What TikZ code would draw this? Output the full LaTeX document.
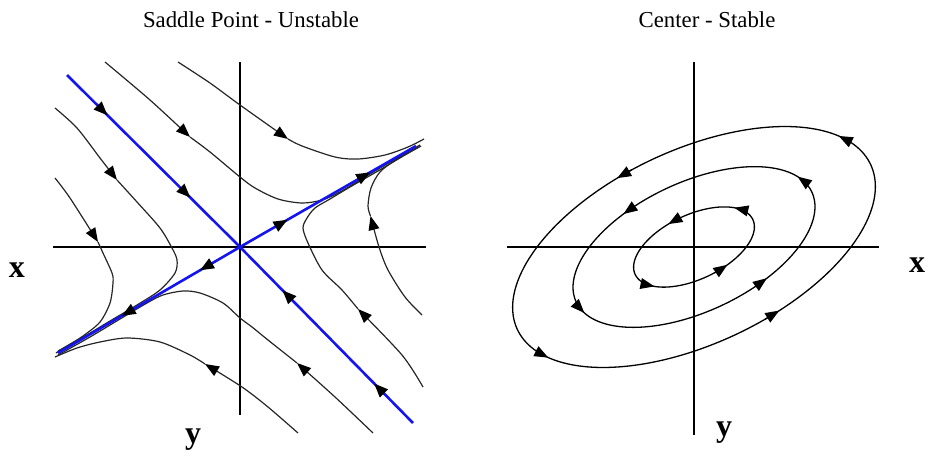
\documentclass[tikz,border=0pt]{standalone}
\usepackage{fontspec}
\setmainfont{Liberation Serif}
\usetikzlibrary{arrows.meta,decorations.markings}
\definecolor{eigblue}{HTML}{1414EE}
\definecolor{bk85}{HTML}{262626}
\tikzset{
  flowtip/.tip={Triangle[length=7pt,width=5.4pt,color=black]},
  axisline/.style={line width=0.75pt, black},
  traj/.style={line width=0.6pt, color=bk85},
  eigenline/.style={line width=1.3pt, color=eigblue},
  orbit/.style={line width=0.65pt, black},
  twoflow/.style 2 args={postaction={decorate, decoration={markings,
      mark=at position #1 with {\arrow[black]{flowtip}},
      mark=at position #2 with {\arrow[black]{flowtip}}}}},
  panetitle/.style={font=\fontsize{11.4}{13}\selectfont, anchor=base, inner sep=0pt},
  axislabel/.style={font=\fontsize{16}{18}\selectfont\bfseries, anchor=base, inner sep=0pt},
}

\begin{document}
\begin{tikzpicture}[x=0.5pt, y=-0.5pt,
    declare function={ox(\s,\t)=694+\s*(176.7*cos(\t)-41*sin(\t));
                      oy(\s,\t)=247-\s*(82.4*cos(\t)+87.9*sin(\t));}]
    \useasboundingbox (0,0) rectangle (928,456);
    % saddle point
    \node[panetitle] (saddletitle) at (251,27) {Saddle Point - Unstable};
    \coordinate (sorigin) at (240,247);
    \coordinate (sleft) at (53,247);
    \coordinate (sright) at (426,247);
    \coordinate (stop) at (240,62);
    \coordinate (sbottom) at (240,415);
    \draw[axisline] (sleft) -- (sright);
    \draw[axisline] (stop) -- (sbottom);
    \node[axislabel] (sxlabel) at (17,277) {x};
    \node[axislabel] (sylabel) at (193,443) {y};
    % trajectories, each cut at its arrowhead
    \draw[traj, -{flowtip}] plot[smooth] coordinates {(178,62) (210,83) (240,105) (288,139)};
    \draw[traj] plot[smooth] coordinates {(288,139) (302,146) (335,157) (358,159)
        (385,155) (408,147) (424,139)};
    \draw[traj, -{flowtip}] plot[smooth] coordinates {(105,62) (150,100) (190,137)};
    \draw[traj] plot[smooth] coordinates {(190,137) (210,152) (240,177) (255,188)
        (278,199) (302,203) (322,200) (340,192) (365,177) (392,161) (420,145)};
    \draw[traj, -{flowtip}] plot[smooth] coordinates {(423,387) (402,355) (358,309)};
    \draw[traj] plot[smooth] coordinates {(358,309) (342,290) (322,270) (308,243)
        (303,228) (307,218) (315,208) (330,199) (350,187) (378,171) (405,155) (421,146)};
    \draw[traj, -{flowtip}] plot[smooth] coordinates {(422,315) (405,297) (388,270)
        (379,247) (370.5,216)};
    \draw[traj] plot[smooth] coordinates {(370.5,216) (368,206) (371,188) (380,172)
        (397,159) (419,147)};
    \draw[traj, -{flowtip}] plot[smooth] coordinates {(373,433) (335,397) (297,363)};
    \draw[traj] plot[smooth] coordinates {(297,363) (268,340) (252,327) (240,318)
        (223,303) (200,293) (183,291) (163,295) (147,303) (120,319) (90,337) (58,355)};
    \draw[traj, -{flowtip}] plot[smooth] coordinates {(298,433) (268,407) (242,387) (205,364)};
    \draw[traj] plot[smooth] coordinates {(205,364) (190,355) (160,342) (127,338)
        (100,342) (77,348) (55,357)};
    \draw[traj, -{flowtip}] plot[smooth] coordinates {(55,108) (77,128) (100,158) (117,180)};
    \draw[traj] plot[smooth] coordinates {(117,180) (137,202) (160,228) (172,248)
        (177,260) (175,273) (160,290) (137,305) (110,321) (85,336) (58,351)};
    \draw[traj, -{flowtip}] plot[smooth] coordinates {(55,178) (70,198) (98,242)};
    \draw[traj] plot[smooth] coordinates {(98,242) (103,253) (112,273) (113,283)
        (110,303) (100,322) (83,336) (67,346) (56,353)};
    % eigen directions
    \coordinate (stabin1) at (67,75);
    \coordinate (stabin2) at (413,423);
    \coordinate (unstout1) at (416,146);
    \coordinate (unstout2) at (58,353);
    \draw[eigenline, twoflow={0.235}{0.715}] (stabin1) -- (sorigin);
    \draw[eigenline, twoflow={0.225}{0.755}] (stabin2) -- (sorigin);
    \draw[eigenline, twoflow={0.27}{0.74}] (sorigin) -- (unstout1);
    \draw[eigenline, twoflow={0.22}{0.65}] (sorigin) -- (unstout2);

    % center
    \node[panetitle] (centertitle) at (707,27) {Center - Stable};
    \coordinate (corigin) at (694,247);
    \coordinate (cleft) at (507,247);
    \coordinate (cright) at (879,247);
    \coordinate (ctop) at (694,62);
    \coordinate (cbottom) at (694,435);
    \draw[axisline] (cleft) -- (cright);
    \draw[axisline] (ctop) -- (cbottom);
    \node[axislabel] (cxlabel) at (917,272) {x};
    \node[axislabel] (cylabel) at (724,436) {y};
    % closed orbits
    \foreach \s in {1,0.667,0.333}
      \draw[orbit] plot[variable=\t, domain=0:360, samples=97, smooth]
        ({ox(\s,\t)}, {oy(\s,\t)}) -- cycle;
    \foreach \s/\ta in {1/24,1/102,1/203.5,1/285,
        0.667/18,0.667/112.6,0.667/192,0.667/294,
        0.333/35,0.333/102,0.333/216,0.333/290.5}
      \draw[orbit, -{flowtip}] ({ox(\s,\ta-5)}, {oy(\s,\ta-5)}) -- ({ox(\s,\ta)}, {oy(\s,\ta)});
\end{tikzpicture}
\end{document}
